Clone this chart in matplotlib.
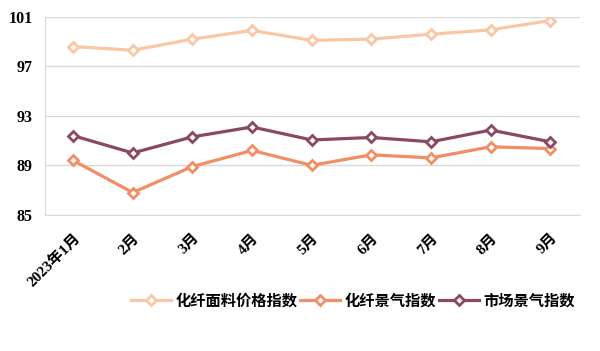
import matplotlib.pyplot as plt

plt.rcParams['font.family'] = ['Liberation Serif', 'Noto Sans CJK SC']

# 月份
months = ['2023年1月', '2月', '3月', '4月', '5月', '6月', '7月', '8月', '9月']

# 三个指数
price_index = [98.6, 98.3, 99.2, 99.9, 99.1, 99.2, 99.6, 99.95, 100.7]
boom_index = [89.4, 86.8, 88.9, 90.2, 89.0, 89.85, 89.6, 90.5, 90.35]
market_index = [91.4, 90.0, 91.3, 92.1, 91.05, 91.25, 90.9, 91.85, 90.9]

series = [
    ('化纤面料价格指数', price_index, '#F9C6A6'),
    ('化纤景气指数', boom_index, '#F28E66'),
    ('市场景气指数', market_index, '#8A4863'),
]

fig = plt.figure(figsize=(6, 3.51), dpi=100)
ax = fig.add_axes([0.075, 0.388, 0.892, 0.564])

x = list(range(len(months)))
for name, vals, color in series:
    ax.plot(x, vals, color=color, linewidth=2.3, marker='D', markersize=5.5,
            markerfacecolor='white', markeredgecolor=color, markeredgewidth=2,
            label=name)

ax.set_ylim(85, 101)
ax.set_yticks([85, 89, 93, 97, 101])
ax.set_xlim(-0.47, 8.5)
ax.set_xticks(x)
ax.set_xticklabels(months, rotation=45, ha='right', rotation_mode='anchor',
                   fontsize=11, fontweight='bold')
for lab in ax.get_yticklabels():
    lab.set_fontsize(11.5)
    lab.set_fontweight('bold')

ax.grid(axis='y', color='#d9d9d9', linewidth=1)
ax.set_axisbelow(True)
for s in ['top', 'right']:
    ax.spines[s].set_visible(False)
for s in ['left', 'bottom']:
    ax.spines[s].set_color('#d9d9d9')
ax.tick_params(axis='y', length=0, pad=9)
ax.tick_params(axis='x', length=0, pad=12)

leg = fig.legend(loc='center', bbox_to_anchor=(0.588, 0.143), ncol=3, frameon=False,
                 prop={'family': ['Noto Sans CJK SC'], 'weight': 'bold', 'size': 11},
                 handlelength=2.6, handletextpad=0.3, columnspacing=0.2)

fig.savefig('out.png', dpi=100)
